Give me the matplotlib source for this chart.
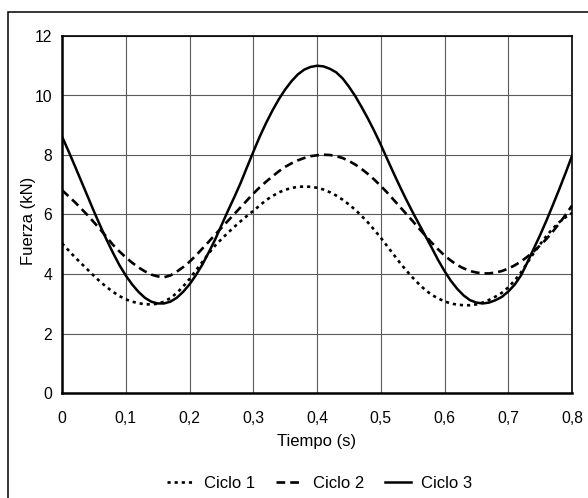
import matplotlib
matplotlib.use("Agg")
import matplotlib.pyplot as plt
from matplotlib.patches import Rectangle

plt.rcParams['font.family'] = ['Liberation Sans', 'DejaVu Sans']

# Tiempo (s) and force values (kN)
tiempo = [0.00, 0.01, 0.02, 0.03, 0.04, 0.05, 0.06, 0.07, 0.08, 0.09,
          0.10, 0.11, 0.12, 0.13, 0.14, 0.15, 0.16, 0.17, 0.18, 0.19,
          0.20, 0.21, 0.22, 0.23, 0.24, 0.25, 0.26, 0.27, 0.28, 0.29,
          0.30, 0.31, 0.32, 0.33, 0.34, 0.35, 0.36, 0.37, 0.38, 0.39,
          0.40, 0.41, 0.42, 0.43, 0.44, 0.45, 0.46, 0.47, 0.48, 0.49,
          0.50, 0.51, 0.52, 0.53, 0.54, 0.55, 0.56, 0.57, 0.58, 0.59,
          0.60, 0.61, 0.62, 0.63, 0.64, 0.65, 0.66, 0.67, 0.68, 0.69,
          0.70, 0.71, 0.72, 0.73, 0.74, 0.75, 0.76, 0.77, 0.78, 0.79, 0.80]

ciclo_1 = [5.03, 4.80, 4.57, 4.36, 4.15, 3.94, 3.74, 3.56, 3.40, 3.26,
           3.15, 3.07, 3.02, 2.98, 2.98, 3.00, 3.07, 3.19, 3.36, 3.58,
           3.83, 4.12, 4.40, 4.69, 4.95, 5.17, 5.38, 5.58, 5.77, 5.95,
           6.12, 6.30, 6.48, 6.62, 6.74, 6.83, 6.89, 6.93, 6.94, 6.93,
           6.90, 6.84, 6.75, 6.64, 6.50, 6.34, 6.16, 5.95, 5.73, 5.48,
           5.22, 4.94, 4.66, 4.38, 4.12, 3.88, 3.66, 3.46, 3.30, 3.18,
           3.08, 3.01, 2.97, 2.95, 2.95, 2.98, 3.04, 3.13, 3.24, 3.37,
           3.55, 3.78, 4.05, 4.38, 4.70, 5.00, 5.28, 5.53, 5.74, 5.91, 6.05]

ciclo_2 = [6.82, 6.62, 6.42, 6.20, 5.98, 5.74, 5.50, 5.24, 4.98, 4.76,
           4.56, 4.38, 4.22, 4.09, 3.98, 3.92, 3.89, 3.95, 4.08, 4.23,
           4.41, 4.62, 4.85, 5.08, 5.32, 5.55, 5.78, 6.01, 6.24, 6.47,
           6.70, 6.91, 7.10, 7.28, 7.45, 7.60, 7.72, 7.82, 7.90, 7.96,
           7.99, 8.01, 8.00, 7.96, 7.90, 7.80, 7.68, 7.53, 7.36, 7.17,
           6.96, 6.74, 6.50, 6.26, 6.02, 5.78, 5.53, 5.29, 5.05, 4.83,
           4.62, 4.45, 4.30, 4.19, 4.10, 4.05, 4.02, 4.02, 4.05, 4.10,
           4.18, 4.29, 4.42, 4.58, 4.76, 4.96, 5.18, 5.43, 5.70, 5.99, 6.30]

ciclo_3 = [8.62, 8.14, 7.64, 7.13, 6.62, 6.11, 5.62, 5.15, 4.71, 4.30,
           3.95, 3.65, 3.40, 3.20, 3.07, 3.01, 3.01, 3.07, 3.20, 3.40,
           3.65, 3.96, 4.31, 4.72, 5.15, 5.63, 6.11, 6.57, 7.05, 7.58,
           8.10, 8.61, 9.07, 9.49, 9.87, 10.20, 10.48, 10.71, 10.87, 10.96,
           11.00, 10.98, 10.90, 10.78, 10.58, 10.30, 9.98, 9.61, 9.22, 8.80,
           8.35, 7.87, 7.40, 6.94, 6.50, 6.08, 5.68, 5.28, 4.88, 4.47,
           4.10, 3.77, 3.50, 3.28, 3.12, 3.04, 3.01, 3.04, 3.12, 3.23,
           3.41, 3.64, 3.95, 4.39, 4.85, 5.31, 5.80, 6.32, 6.85, 7.40, 7.97]

x_ticks = [0, 0.1, 0.2, 0.3, 0.4, 0.5, 0.6, 0.7, 0.8]
x_labels = ['0', '0,1', '0,2', '0,3', '0,4', '0,5', '0,6', '0,7', '0,8']
y_ticks = [0, 2, 4, 6, 8, 10, 12]

fig = plt.figure(figsize=(5.88, 4.98), dpi=100)
ax = fig.add_axes([62 / 588, 105 / 498, 510 / 588, 357 / 498])

# outer frame around the whole figure
fig.patches.append(Rectangle((8 / 588, -0.1), 1.2, 1.1 - 12 / 498,
                             transform=fig.transFigure, fill=False,
                             edgecolor='black', linewidth=1.1))

ax.plot(tiempo, ciclo_1, color='black', lw=1.9, linestyle=(0, (1.2, 1.5)), label='Ciclo 1')
ax.plot(tiempo, ciclo_2, color='black', lw=1.9, linestyle=(0, (3.3, 1.9)), label='Ciclo 2')
ax.plot(tiempo, ciclo_3, color='black', lw=1.8, linestyle='-', label='Ciclo 3')

ax.set_xlim(0, 0.8)
ax.set_ylim(0, 12)
ax.set_xticks(x_ticks)
ax.set_xticklabels(x_labels)
ax.set_yticks(y_ticks)
ax.tick_params(length=0, labelsize=11.3, colors='black')
ax.tick_params(axis='x', pad=13)
ax.tick_params(axis='y', pad=7)
ax.grid(True, color='#5a5a5a', linewidth=0.8)
ax.set_axisbelow(True)

for side in ['left', 'bottom']:
    ax.spines[side].set_linewidth(1.8)
for side in ['top', 'right']:
    ax.spines[side].set_linewidth(1.2)

ax.set_xlabel('Tiempo (s)', fontsize=12, va='center')
ax.xaxis.set_label_coords(0.5, (393 - 441) / 357)
ax.set_ylabel('Fuerza (kN)', fontsize=12, va='center')
ax.yaxis.set_label_coords((28 - 62) / 510, (393 - 221) / 357)

fig.legend(loc='center', bbox_to_anchor=(320 / 588, 1 - 483 / 498), ncol=3,
           frameon=False, fontsize=12, handlelength=1.6, handletextpad=0.6,
           columnspacing=1.25)

fig.savefig('out.png', dpi=100)
